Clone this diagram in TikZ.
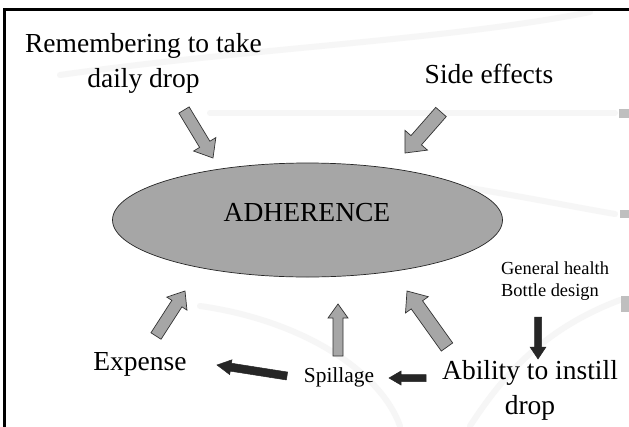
\documentclass[tikz,border=0pt]{standalone}
\usepackage{fontspec}
\setmainfont{Liberation Serif}
\usetikzlibrary{calc,shapes.geometric}
\definecolor{fillgray}{HTML}{A6A6A6}
\definecolor{darkarrow}{HTML}{262626}
\definecolor{swoosh}{HTML}{F6F6F6}
% #1 style, #2 tail, #3 tip, #4 half shaft, #5 half head, #6 head length
\newcommand\blockarrow[6][]{%
  \coordinate (#2-#3) at ($(#3)!#6!(#2)$);
  \draw[#1] ($(#2)!#4!90:(#3)$) -- ($(#2-#3)!#4!90:(#3)$) -- ($(#2-#3)!#5!90:(#3)$)
    -- (#3) -- ($(#2-#3)!#5!-90:(#3)$) -- ($(#2-#3)!#4!-90:(#3)$) -- ($(#2)!#4!-90:(#3)$) -- cycle;
}
\begin{document}
\begin{tikzpicture}[x=1pt,y=-1pt,
  grayarrow/.style={fill=fillgray, draw=black!80, line width=0.7pt, line join=miter},
  blackarrow/.style={fill=darkarrow, draw=darkarrow, line width=0.5pt, line join=miter},
  txtbig/.style={font=\fontsize{27.5}{35}\selectfont, inner sep=0pt, align=center},
  txtmid/.style={font=\fontsize{21.4}{26}\selectfont, inner sep=0pt},
  txtsmall/.style={font=\fontsize{18.4}{22}\selectfont, inner sep=0pt, align=left},
  bgswoosh/.style={draw=swoosh, line width=6pt, line cap=round},
  blip/.style={fill=black!25}]
\useasboundingbox (0,0) rectangle (629,426);
\fill[white] (0,0) rectangle (629,426);

% faint background swooshes
\draw[bgswoosh] (60,75) .. controls (250,48) and (450,40) .. (590,12);
\draw[bgswoosh] (210,113) -- (615,113);
\draw[bgswoosh] (470,188) .. controls (530,198) and (580,208) .. (615,214);
\draw[bgswoosh] (200,306) .. controls (300,320) and (380,370) .. (400,426);
\draw[bgswoosh] (620,300) .. controls (540,330) and (500,380) .. (470,426);
\fill[blip] (619,109) rectangle (629,118);
\fill[blip] (620,210) rectangle (629,218);
\fill[blip] (621,296) rectangle (629,312);

% frame
\draw[line width=2.5pt, line join=miter] (4.7,430) -- (4.7,9.7) -- (633,9.7);

% ellipse
\node[ellipse, draw=black!85, fill=fillgray, line width=0.7pt, minimum width=390pt, minimum height=114pt, inner sep=0pt] (adh) at (307.5,220) {};
\node[txtbig, anchor=base] (adhtext) at (307,221) {ADHERENCE};

% texts
\node[txtbig, anchor=north] (remember) at (143.5,33) {Remembering to take\\daily drop};
\node[txtbig, anchor=base] (side) at (489,83) {Side effects};
\node[txtbig, anchor=base] (expense) at (140,370) {Expense};
\node[txtmid, anchor=base] (spill) at (339,382) {Spillage};
\node[txtbig, anchor=north] (ability) at (530,360) {Ability to instill\\drop};
\node[txtsmall, anchor=north west] (health) at (501,262) {General health\\Bottle design};

% arrow end points
\coordinate (r1) at (184,110);  \coordinate (r2) at (213,158);
\coordinate (s1) at (441,112);  \coordinate (s2) at (405,153);
\coordinate (e1) at (156,336);  \coordinate (e2) at (185,291);
\coordinate (p1) at (338,356);  \coordinate (p2) at (338,304);
\coordinate (a1) at (447,347);  \coordinate (a2) at (407,291);
\coordinate (h1) at (538,317);  \coordinate (h2) at (538,359);
\coordinate (sp1) at (287,376); \coordinate (sp2) at (217,365);
\coordinate (ab1) at (426,378); \coordinate (ab2) at (389,378);

% gray arrows into adherence
\blockarrow[grayarrow]{r1}{r2}{6pt}{13pt}{16pt}
\blockarrow[grayarrow]{s1}{s2}{7pt}{15pt}{17pt}
\blockarrow[grayarrow]{e1}{e2}{6pt}{12pt}{15pt}
\blockarrow[grayarrow]{p1}{p2}{5pt}{10pt}{14pt}
\blockarrow[grayarrow]{a1}{a2}{7pt}{14pt}{17pt}

% black arrows
\blockarrow[blackarrow]{h1}{h2}{3.5pt}{8pt}{12pt}
\blockarrow[blackarrow]{sp1}{sp2}{4pt}{7.5pt}{14pt}
\blockarrow[blackarrow]{ab1}{ab2}{3.5pt}{7pt}{12pt}
\end{tikzpicture}
\end{document}
